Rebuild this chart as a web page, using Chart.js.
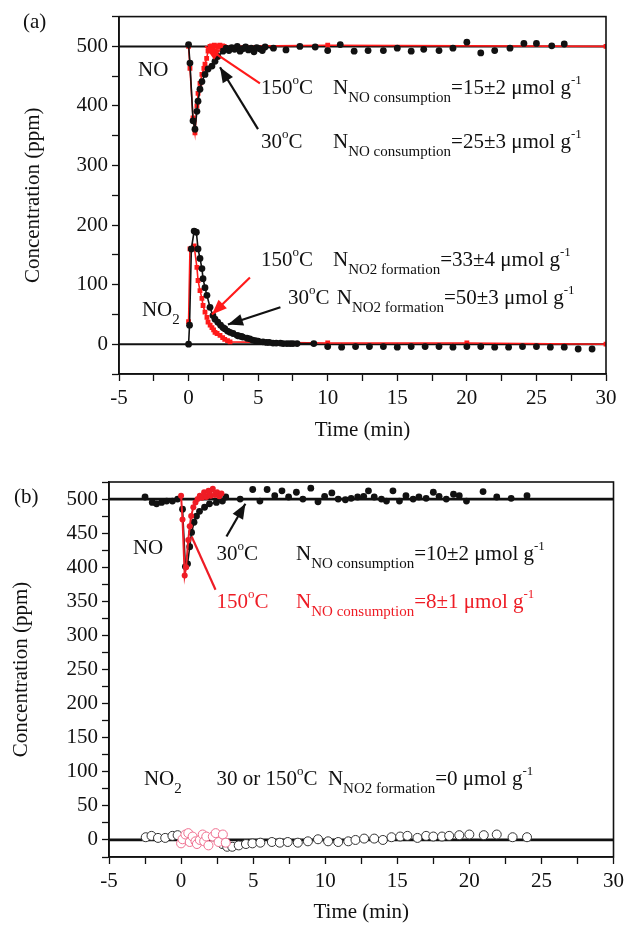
<!DOCTYPE html>
<html>
<head>
<meta charset="utf-8">
<script src="https://cdn.jsdelivr.net/npm/chart.js@4.4.1/dist/chart.umd.min.js"></script>
<style>
  body { margin: 0; background: #fff; }
  .panel { position: absolute; left: 0; width: 629px; height: 465px; }
</style>
</head>
<body>
<div class="panel" style="top:0"><canvas id="panelA" width="629" height="465"></canvas></div>
<div class="panel" style="top:465px"><canvas id="panelB" width="629" height="465"></canvas></div>
<script>
// ---- data ----
const X_MIN = -5, X_MAX = 30;
const xLabels = [-5, 0, 5, 10, 15, 20, 25, 30];
const yLabelsA = [0, 100, 200, 300, 400, 500];
const yLabelsB = [0, 50, 100, 150, 200, 250, 300, 350, 400, 450, 500];
const NO_FEED = 500;
const NO2_FEED = 0;

// (a) NO, 30 C
const noTime30A = [0, 0.1, 0.32, 0.46, 0.6, 0.68, 0.82, 0.96, 1.18, 1.4, 1.68, 1.9, 2.1, 2.47,
  2.7, 2.9, 3.1, 3.3, 3.5, 3.7, 3.9, 4.1, 4.3, 4.5, 4.7, 4.9, 5.1, 5.3, 5.5,
  6.1, 7, 8, 9.1, 10, 10.9, 11.9, 12.9, 14, 15, 16, 16.9, 18, 19, 20, 21, 22, 23.1, 24.1, 25, 26.1, 27];
const noConc30A = [503, 472, 375, 361, 391, 408, 428, 441, 453, 462, 467, 475, 483, 492,
  497, 493, 498, 495, 500, 492, 496, 499, 494, 497, 491, 498, 496, 493, 499,
  497, 494, 500, 499, 493, 503, 492, 493, 493, 497, 492, 495, 493, 497, 507, 489, 493, 497, 505, 505, 501, 504];
// (a) NO, 150 C
const noTime150A = [0, 0.1, 0.32, 0.46, 0.6, 0.68, 0.82, 0.96, 1.1, 1.18, 1.3, 1.4, 1.54, 1.65,
  1.75, 1.85, 1.95, 2.05, 2.15, 2.25, 2.35, 2.45, 2.55, 10, 30];
const noConc150A = [500, 463, 380, 355, 400, 421, 438, 453, 463, 470, 480, 492, 500, 501,
  499, 502, 500, 501, 499, 502, 500, 501, 500, 502, 500];
// (a) NO2, 30 C
const no2Time30A = [0, 0.07, 0.2, 0.4, 0.56, 0.68, 0.82, 0.96, 1.04, 1.18, 1.32, 1.54, 1.75, 1.9,
  2.1, 2.3, 2.47, 2.6, 2.8, 2.98, 3.2, 3.48, 3.6, 3.8, 3.9, 4.2, 4.4, 4.6, 4.8, 5, 5.35, 5.6, 5.8,
  6.07, 6.3, 6.6, 6.8, 7.07, 7.3, 7.5, 7.8, 9, 10, 11, 12, 13, 14, 15, 16, 17, 18, 19, 20,
  21, 22, 23, 24, 25, 26, 27, 28, 29];
const no2Conc30A = [0, 32, 160, 190, 188, 160, 144, 127, 110, 95, 82, 62, 48, 42,
  37, 32, 28, 26, 22, 20, 18, 15, 14, 13, 12, 10, 9, 7, 6, 5, 4, 3, 3,
  2, 2, 2, 1, 1, 1, 1, 1, 1, -4, -5, -4, -4, -4, -5, -4, -4, -4, -5, -4,
  -4, -5, -5, -4, -4, -5, -5, -8, -8];
// (a) NO2, 150 C
const no2Time150A = [0, 0.1, 0.4, 0.6, 0.68, 0.82, 0.96, 1.04, 1.18, 1.32, 1.4, 1.55, 1.68, 1.8,
  1.9, 2.05, 2.26, 2.45, 2.6, 2.8, 2.98, 10, 20, 30];
const no2Conc150A = [38, 160, 165, 129, 107, 90, 77, 65, 54, 45, 37, 32, 28, 24,
  20, 18, 15, 11, 8, 6, 4, 2, 2, 0];

// (b) NO, 30 C
const noTime30B = [-2.5, -2, -1.7, -1.35, -1, -0.6, -0.24,
  0.1, 0.3, 0.45, 0.6, 0.73, 0.9, 1.07, 1.28, 1.63, 1.97, 2.45, 2.87,
  3.1, 4.1, 4.97, 5.47, 5.97, 6.5, 7, 7.46, 8, 8.45, 9, 9.5, 9.96, 10.46, 10.9, 11.4, 11.8, 12.25,
  12.67, 13, 13.4, 13.9, 14.25, 14.7, 15.15, 15.6, 16.1, 16.5, 17, 17.5, 17.9, 18.4, 18.9, 19.3,
  19.8, 20.95, 21.9, 22.9, 24];
const noConc30B = [503, 495, 493, 495, 497, 497, 500,
  485, 401, 405, 430, 451, 466, 475, 482, 488, 493, 495, 497,
  503, 500, 514, 497, 514, 505, 512, 503, 510, 500, 516, 496, 504, 509, 500, 499, 501, 503,
  504, 512, 503, 500, 497, 512, 497, 505, 500, 503, 501, 510, 504, 500, 507, 505,
  497, 511, 503, 501, 505];
// (b) NO, 150 C
const noTime150B = [0, 0.1, 0.25, 0.35, 0.5, 0.6, 0.7, 0.85, 1, 1.15, 1.3, 1.45, 1.6, 1.75,
  1.9, 2.05, 2.2, 2.35, 2.5, 2.65, 2.8];
const noConc150B = [505, 470, 388, 400, 440, 460, 475, 488, 495, 500, 505, 502, 510, 503,
  512, 505, 515, 506, 510, 504, 508];
// (b) NO2, 30 C and 150 C
const no2Time30B = [-2.45, -2.05, -1.6, -1.1, -0.6, -0.24, 2.87, 3.2, 3.55, 4, 4.5, 4.95,
  5.5, 6.3, 6.85, 7.4, 8.1, 8.8, 9.5, 10.2, 10.9, 11.6, 12.1, 12.7, 13.4, 14, 14.6, 15.2, 15.7,
  16.4, 17, 17.5, 18.1, 18.6, 19.3, 20, 21, 21.9, 23, 24];
const no2Conc30B = [4, 6, 3, 3, 6, 7, -6, -10, -10, -8, -6, -5,
  -4, -3, -4, -3, -4, -2, 1, -2, -3, -2, 0, 2, 2, 0, 4, 5, 6,
  3, 6, 5, 5, 6, 7, 8, 7, 8, 4, 4];
const no2Time150B = [0, 0.1, 0.3, 0.5, 0.6, 0.8, 1, 1.1, 1.3, 1.5, 1.6, 1.75, 1.9, 2.2, 2.4, 2.6, 2.9, 3.1];
const no2Conc150B = [-5, 1, 8, 10, -3, 5, -2, -6, 0, 8, -2, 5, -8, 5, 10, -3, 8, -4];

// ---- styling ----
const INK = '#111111';
const RED = '#ff1a1a';
const RED_B = '#ee1c25';
const PINK = '#f07090';
const FONT = "'Liberation Serif', 'Times New Roman', serif";

function pts(xs, ys) {
  return xs.map((x, i) => ({ x: x, y: ys[i] }));
}

function feedLine(level, width) {
  return {
    data: [{ x: X_MIN, y: level }, { x: X_MAX, y: level }],
    showLine: true, borderColor: INK, borderWidth: width, pointRadius: 0
  };
}

function tickList(min, max, step) {
  const out = [];
  for (let v = min; v <= max + 1e-9; v += step) {
    out.push({ value: Math.round(v * 1000) / 1000 });
  }
  return out;
}

function axes(cfg) {
  return {
    x: {
      type: 'linear', min: X_MIN, max: X_MAX,
      afterBuildTicks: s => { s.ticks = tickList(X_MIN, X_MAX, 2.5); },
      afterFit: s => { s.height = cfg.xHeight; },
      ticks: {
        autoSkip: false, maxRotation: 0, padding: cfg.xTickPad, color: INK,
        font: { family: FONT, size: 21 },
        callback: v => xLabels.includes(v) ? String(v) : ''
      },
      grid: { drawOnChartArea: false, tickLength: 7, tickColor: INK, tickWidth: 1.3 },
      border: { color: INK, width: 1.6 },
      title: {
        display: true, text: 'Time (min)', color: INK,
        font: { family: FONT, size: 21 }, padding: { top: 0, bottom: cfg.xTitlePad }
      }
    },
    y: {
      type: 'linear', min: cfg.yMin, max: cfg.yMax,
      afterBuildTicks: s => { s.ticks = tickList(cfg.yMin, cfg.yMax, cfg.yStep); },
      afterFit: s => { s.width = cfg.yWidth; },
      ticks: {
        autoSkip: false, padding: 4, color: INK,
        font: { family: FONT, size: 21 },
        callback: v => cfg.yLabels.includes(v) ? String(v) : ''
      },
      grid: { drawOnChartArea: false, tickLength: 7, tickColor: INK, tickWidth: 1.3 },
      border: { color: INK, width: 1.6 },
      title: {
        display: true, text: 'Concentration (ppm)', color: INK,
        font: { family: FONT, size: 21 }, padding: { top: cfg.yTitlePad, bottom: 0 }
      }
    }
  };
}

// text with super/subscripts
function drawRich(ctx, x, y, runs, color) {
  ctx.save();
  ctx.fillStyle = color;
  ctx.textAlign = 'left';
  ctx.textBaseline = 'alphabetic';
  let cx = x;
  for (const r of runs) {
    const text = Array.isArray(r) ? r[0] : r;
    const kind = Array.isArray(r) ? r[1] : '';
    let size = 21, dy = 0;
    if (kind === 'sup') { size = 13; dy = -10; }
    if (kind === 'sub') { size = 15; dy = 8; }
    ctx.font = size + 'px ' + FONT;
    ctx.fillText(text, cx, y + dy);
    cx += ctx.measureText(text).width;
  }
  ctx.restore();
}

function drawArrow(ctx, x1, y1, x2, y2, color, head) {
  ctx.save();
  ctx.strokeStyle = color;
  ctx.fillStyle = color;
  ctx.lineWidth = 2.2;
  ctx.beginPath();
  ctx.moveTo(x1, y1);
  ctx.lineTo(x2, y2);
  ctx.stroke();
  if (head) {
    const a = Math.atan2(y2 - y1, x2 - x1);
    const L = 15, W = 6;
    ctx.beginPath();
    ctx.moveTo(x2, y2);
    ctx.lineTo(x2 - L * Math.cos(a) + W * Math.sin(a), y2 - L * Math.sin(a) - W * Math.cos(a));
    ctx.lineTo(x2 - L * Math.cos(a) - W * Math.sin(a), y2 - L * Math.sin(a) + W * Math.cos(a));
    ctx.closePath();
    ctx.fill();
  }
  ctx.restore();
}

function notesPlugin(label, labelPos, notes, arrows) {
  return {
    id: 'notes',
    afterDraw(chart) {
      const { ctx, chartArea: a, scales } = chart;
      ctx.save();
      ctx.strokeStyle = INK;
      ctx.lineWidth = 1.6;
      ctx.strokeRect(a.left, a.top, a.right - a.left, a.bottom - a.top);
      ctx.restore();
      for (const ar of arrows) {
        drawArrow(ctx,
          scales.x.getPixelForValue(ar.from[0]), scales.y.getPixelForValue(ar.from[1]),
          scales.x.getPixelForValue(ar.to[0]), scales.y.getPixelForValue(ar.to[1]),
          ar.color, ar.head);
      }
      for (const n of notes) {
        drawRich(ctx, scales.x.getPixelForValue(n.x), scales.y.getPixelForValue(n.y), n.runs, n.color || INK);
      }
      drawRich(ctx, labelPos[0], labelPos[1], [label], INK);
    }
  };
}

// ---- panel (a) ----
const notesA = [
  { x: -3.63, y: 450, runs: ['NO'] },
  { x: 5.2, y: 420, runs: ['150', ['o', 'sup'], 'C'] },
  { x: 10.38, y: 420, runs: ['N', ['NO consumption', 'sub'], '=15±2 μmol g', ['-1', 'sup']] },
  { x: 5.2, y: 329, runs: ['30', ['o', 'sup'], 'C'] },
  { x: 10.38, y: 329, runs: ['N', ['NO consumption', 'sub'], '=25±3 μmol g', ['-1', 'sup']] },
  { x: -3.35, y: 48, runs: ['NO', ['2', 'sub']] },
  { x: 5.2, y: 132, runs: ['150', ['o', 'sup'], 'C'] },
  { x: 10.38, y: 132, runs: ['N', ['NO2 formation', 'sub'], '=33±4 μmol g', ['-1', 'sup']] },
  { x: 7.15, y: 67, runs: ['30', ['o', 'sup'], 'C'] },
  { x: 10.65, y: 67, runs: ['N', ['NO2 formation', 'sub'], '=50±3 μmol g', ['-1', 'sup']] }
];
const arrowsA = [
  { from: [5.13, 438], to: [1.18, 500], color: RED, head: true },
  { from: [4.99, 361], to: [2.26, 465], color: INK, head: true },
  { from: [4.41, 112], to: [1.68, 50], color: RED, head: true },
  { from: [6.6, 62], to: [2.83, 33], color: INK, head: true }
];

new Chart(document.getElementById('panelA'), {
  type: 'scatter',
  data: {
    datasets: [
      {
        data: pts(noTime30A, noConc30A), showLine: true, borderColor: INK, borderWidth: 1.6,
        segment: { borderColor: c => c.p0.parsed.x >= 6 ? 'transparent' : INK },
        pointRadius: 3.4, pointBackgroundColor: INK, pointBorderWidth: 0
      },
      {
        data: pts(no2Time30A, no2Conc30A), showLine: true, borderColor: INK, borderWidth: 1.6,
        segment: { borderColor: c => c.p0.parsed.x >= 8 ? 'transparent' : INK },
        pointRadius: 3.4, pointBackgroundColor: INK, pointBorderWidth: 0
      },
      {
        data: pts(noTime150A, noConc150A), showLine: true, borderColor: RED, borderWidth: 1.6,
        pointStyle: 'rect', pointRadius: 3.4, pointBackgroundColor: RED, pointBorderWidth: 0
      },
      {
        data: pts(no2Time150A, no2Conc150A), showLine: true, borderColor: RED, borderWidth: 1.6,
        pointStyle: 'rect', pointRadius: 3.4, pointBackgroundColor: RED, pointBorderWidth: 0
      },
      feedLine(NO_FEED, 2),
      feedLine(NO2_FEED, 2)
    ]
  },
  options: {
    responsive: false, animation: false, devicePixelRatio: 1,
    layout: { padding: { left: 0, right: 23, top: 15, bottom: 0 } },
    plugins: { legend: { display: false }, tooltip: { enabled: false } },
    scales: axes({
      yMin: -50, yMax: 550, yStep: 50, yLabels: yLabelsA,
      yWidth: 119, xHeight: 91, xTickPad: 5, xTitlePad: 22, yTitlePad: 21
    })
  },
  plugins: [notesPlugin('(a)', [23, 28], notesA, arrowsA)]
});

// ---- panel (b) ----
const notesB = [
  { x: -3.34, y: 419, runs: ['NO'] },
  { x: 2.46, y: 410, runs: ['30', ['o', 'sup'], 'C'] },
  { x: 7.98, y: 410, runs: ['N', ['NO consumption', 'sub'], '=10±2 μmol g', ['-1', 'sup']] },
  { x: 2.46, y: 340, runs: ['150', ['o', 'sup'], 'C'], color: RED_B },
  { x: 7.98, y: 340, runs: ['N', ['NO consumption', 'sub'], '=8±1 μmol g', ['-1', 'sup']], color: RED_B },
  { x: -2.58, y: 81, runs: ['NO', ['2', 'sub']] },
  { x: 2.46, y: 81, runs: ['30 or 150', ['o', 'sup'], 'C'] },
  { x: 10.19, y: 81, runs: ['N', ['NO2 formation', 'sub'], '=0 μmol g', ['-1', 'sup']] }
];
const arrowsB = [
  { from: [3.15, 445], to: [4.46, 493], color: INK, head: true },
  { from: [2.39, 367], to: [0.73, 445], color: RED_B, head: false }
];

new Chart(document.getElementById('panelB'), {
  type: 'scatter',
  data: {
    datasets: [
      {
        data: pts(noTime150B, noConc150B), showLine: true, borderColor: RED_B, borderWidth: 2,
        pointRadius: 3, pointBackgroundColor: RED_B, pointBorderWidth: 0
      },
      {
        data: pts(noTime30B, noConc30B), showLine: true, borderColor: INK, borderWidth: 1.6,
        segment: { borderColor: c => (c.p0.parsed.x < 0 || c.p0.parsed.x >= 3) ? 'transparent' : INK },
        pointRadius: 3.4, pointBackgroundColor: INK, pointBorderWidth: 0
      },
      {
        data: pts(no2Time150B, no2Conc150B), showLine: false,
        pointRadius: 4.5, pointBackgroundColor: '#ffffff', pointBorderColor: PINK, pointBorderWidth: 1
      },
      {
        data: pts(no2Time30B, no2Conc30B), showLine: false,
        pointRadius: 4.5, pointBackgroundColor: '#ffffff', pointBorderColor: '#333333', pointBorderWidth: 1
      },
      feedLine(NO_FEED, 2.8),
      feedLine(NO2_FEED, 2.8)
    ]
  },
  options: {
    responsive: false, animation: false, devicePixelRatio: 1,
    layout: { padding: { left: 0, right: 13, top: 17, bottom: 0 } },
    plugins: { legend: { display: false }, tooltip: { enabled: false } },
    scales: axes({
      yMin: -25, yMax: 525, yStep: 25, yLabels: yLabelsB,
      yWidth: 109, xHeight: 73, xTickPad: 5, xTitlePad: 5, yTitlePad: 9
    })
  },
  plugins: [notesPlugin('(b)', [14, 38], notesB, arrowsB)]
});
</script>
</body>
</html>
